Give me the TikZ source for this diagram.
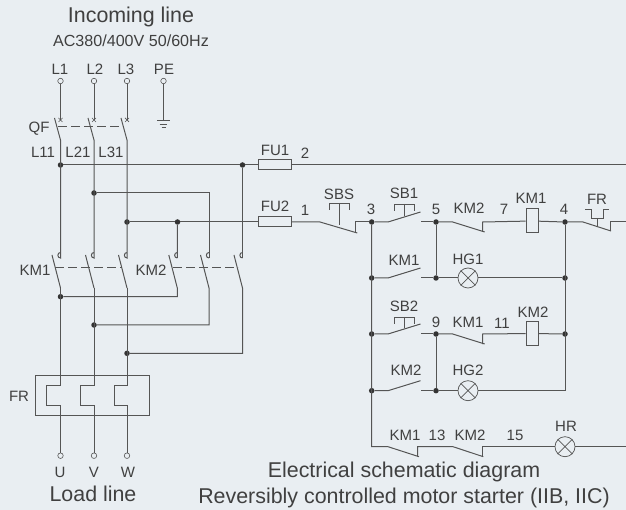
\documentclass[tikz,border=0pt]{standalone}
\usepackage{fontspec}
\setmainfont{Liberation Sans}
\usepackage{tikz}
\definecolor{bgcol}{HTML}{E9EEF2}
\definecolor{wirecol}{HTML}{555555}
\definecolor{txtcol}{HTML}{404040}
\begin{document}
\begin{tikzpicture}[x=1pt,y=-1pt,
wire/.style={draw=wirecol,line width=1pt},
thin wire/.style={draw=wirecol,line width=.7pt},
dot/.style={circle,fill=black!80,inner sep=0pt,minimum size=5.5pt},
term/.style={circle,draw=wirecol,fill=bgcol,line width=.6pt,inner sep=0pt,minimum size=5.5pt},
lamp/.style={circle,draw=wirecol,fill=bgcol,line width=.7pt,inner sep=0pt,minimum size=20pt},
fuse/.style={rectangle,draw=wirecol,fill=bgcol,line width=1pt,inner sep=0pt,minimum width=33pt,minimum height=10pt},
coil/.style={rectangle,draw=wirecol,fill=bgcol,line width=1pt,inner sep=0pt,minimum width=12.5pt,minimum height=24pt},
lbl/.style={text=txtcol,inner sep=0pt,font=\fontsize{15}{16}\selectfont},
big/.style={text=txtcol,inner sep=0pt,font=\fontsize{21.4}{22}\selectfont}]
\fill[bgcol] (0,0) rectangle (626,510);
\useasboundingbox (0,0) rectangle (626,510);

% junctions
\foreach \n/\x/\y in {ja/60.5/165,jf/242.5/165,jb/94/193,jc/127/222,jd/177.5/222,
    ka/60.5/296.7,kb/94/325,kc/127/353.3,
    n3/371.7/222,n5/436/222,n4/565/222,r1/371.7/278,r2/436/278,r3/565/278,
    r4/371.7/334,n9/436/334,r5/565/334,r6/371.7/390.7,r7/436/390.7}
    \node[dot] (\n) at (\x,\y) {};
\coordinate (r8) at (565,390.7);
\coordinate (r9) at (371.7,446.7);

% main circuit
\foreach \p/\x in {a/60.5,b/94,c/127} {
    \node[term] (in\p) at (\x,81) {};
    \coordinate (qf\p) at (\x,120);
    \draw[wire] (in\p) -- (qf\p);
    \draw[thin wire] (\x-2,118) -- (\x+2,122) (\x+2,118) -- (\x-2,122);
    \coordinate (qb\p) at (\x,140);
    \draw[wire] (\x-6,118) -- (qb\p) -- (\x,258)
        .. controls (\x-3.5,258) and (\x-3.5,252.5) .. (\x,252.5);
    \coordinate (km\p) at (\x,288);
    \draw[wire] (\x-8.5,255) -- (km\p);
}
\foreach \p/\x/\j in {a/177.3/ka,b/209/kb,c/242.5/kc} {
    \coordinate (mk\p) at (\x,288);
    \draw[wire] (\x,258) .. controls (\x-3.5,258) and (\x-3.5,252.5) .. (\x,252.5);
    \draw[wire] (\x-8.5,255) -- (mk\p) |- (\j);
}
\draw[wire] (jd) -- (177.3,258);
\draw[wire] (jb) -| (209,258);
\draw[wire] (jf) -- (242.5,258);
\draw[wire] (ja) -- (jf);
\draw[wire,dashed,dash pattern=on 9pt off 4pt] (58,127) -- (122,127);
\draw[wire,dashed,dash pattern=on 9pt off 4pt] (55,268) -- (122,268);
\draw[wire,dashed,dash pattern=on 9pt off 4pt] (173,268) -- (238,268);

% earth
\node[term] (pe) at (163.5,81) {};
\coordinate (gnd) at (163.5,120);
\draw[wire] (pe) -- (gnd);
\draw[thin wire] (157,120) -- (170,120) (159.7,124) -- (167.3,124) (161.5,127.5) -- (165.5,127.5);

% thermal relay
\draw[wire] (35.7,375) rectangle (149,415);
\foreach \p/\x/\l in {a/60.5/46.7,b/94/80.3,c/127/114} {
    \node[term] (out\p) at (\x,455.7) {};
    \draw[wire] (km\p) -- (\x,385) -- (\l,385) -- (\l,405) -- (\x,405) -- (out\p);
}

% fuses and control circuit
\node[fuse] (fua) at (274.5,165) {};
\node[fuse] (fub) at (274.5,222) {};
\coordinate (enda) at (626,165);
\draw[wire] (jf) -- (fua) -- (enda);
\draw[wire] (jc) -- (jd) -- (fub);
\coordinate (sbs) at (320,222);
\draw[wire] (fub) -- (sbs) -- ++(37.3,11);
\draw[wire] (355,232) -- (355,222) -- (n3);
\draw[wire] (n3) -- (r9) -- ++(16.3,0) -- ++(31,10);
\draw[wire] (417.7,456.7) -- (417.7,446.7) -- ++(35.3,0) -- ++(30.3,10);
\node[lamp] (hr) at (565,446.7) {};
\draw[wire] (482.3,456.7) -- (482.3,446.7) -- (hr);
\coordinate (endc) at (626,446.7);
\draw[wire] (hr) -- (endc);

% make contacts
\foreach \a/\b/\y in {n3/n5/222,r1/r2/278,r4/n9/334,r6/r7/390.7} {
    \draw[wire] (\a) -- (388,\y) -- (420.5,\y-10);
    \draw[wire] (421,\y) -- (\b);
}
\draw[wire] (n5) -- (r2) (n9) -- (r7);
\draw[wire] (n4) -- (r8);

% buttons
\foreach \n/\x/\y/\z in {bsbs/339/203/225.5,bsba/404/204/216,bsbb/404/317/328} {
    \coordinate (\n) at (\x,\y);
    \draw[thin wire] (\x-10,\y+7) -- (\x-10,\y) -- (\x+10,\y) -- (\x+10,\y+7);
    \draw[wire] (\n) -- (\x,\z);
}

% break contacts and coils
\node[coil] (coa) at (532.3,221) {};
\node[coil] (cob) at (532.3,333.5) {};
\foreach \a/\c/\e/\y in {n5/coa/n4/222,n9/cob/r5/334} {
    \draw[wire] (\a) -- (452.7,\y) -- (484.7,\y+10);
    \draw[wire] (482.7,\y+10) -- (482.7,\y) -- (\c) -- (\e);
}

% overload contact
\coordinate (endb) at (626,222);
\draw[wire] (n4) -- (583,222) -- (611,231);
\draw[wire] (610,231) -- (610,222) -- (endb);
\draw[thin wire] (585.3,209.3) -- (591,209.3) -- (591,218.3) -- (603.7,218.3) -- (603.7,209.3) -- (609,209.3);
\draw[thin wire] (597,218.3) -- (597,225.7);

% lamps
\node[lamp] (hga) at (468,278) {};
\node[lamp] (hgb) at (468,390.7) {};
\draw[wire] (r2) -- (hga) -- (r3);
\draw[wire] (r7) -- (hgb) -- (r8);
\foreach \n in {hga,hgb,hr}
    \draw[thin wire] (\n.45) -- (\n.225) (\n.135) -- (\n.-45);

% texts
\foreach \n/\x/\y/\t in {tLa/60/69/L1,tLb/95/69/L2,tLc/126/69/L3,tPE/164/69/PE,
    tQF/39/129/QF,tLaa/43/152/L11,tLbb/78/152/L21,tLcc/111/152/L31,
    tKMa/35/270/KM1,tKMb/151/270/KM2,tFR/19/396/FR,
    tU/60/472/U,tV/94/472/V,tW/128/472/W,
    tFUa/275/150/FU1,tt/305/153/2,tFUb/275/206/FU2,to/305/210/1,
    tSBS/339/194/SBS,tth/371/209/3,tSBa/404/193/SB1,tfi/436/209/5,
    tKMc/469/208/KM2,tse/504/209/7,tKMd/531/198/KM1,tfo/564/209/4,tFRb/597/199/FR,
    tKMe/404/260/KM1,tHGa/468/259/HG1,tSBb/404/306/SB2,tni/436/322/9,
    tKMf/468/322/KM1,tel/502/323/11,tKMg/533/312/KM2,
    tKMh/406/370/KM2,tHGb/468/370/HG2,
    tKMi/405/435/KM1,tthi/437/435/13,tKMj/470/435/KM2,tfif/515/435/15,tHR/566/426/HR}
    \node[lbl] (\n) at (\x,\y) {\t};
\node[big] (tin) at (131,17) {Incoming line};
\node[lbl,font=\fontsize{16.1}{17}\selectfont] (tac) at (131,41) {AC380/400V 50/60Hz};
\node[big] (tload) at (93,494) {Load line};
\node[big] (ttita) at (404,472) {Electrical schematic diagram};
\node[big] (ttitb) at (404,498) {Reversibly controlled motor starter (IIB, IIC)};
\end{tikzpicture}
\end{document}
